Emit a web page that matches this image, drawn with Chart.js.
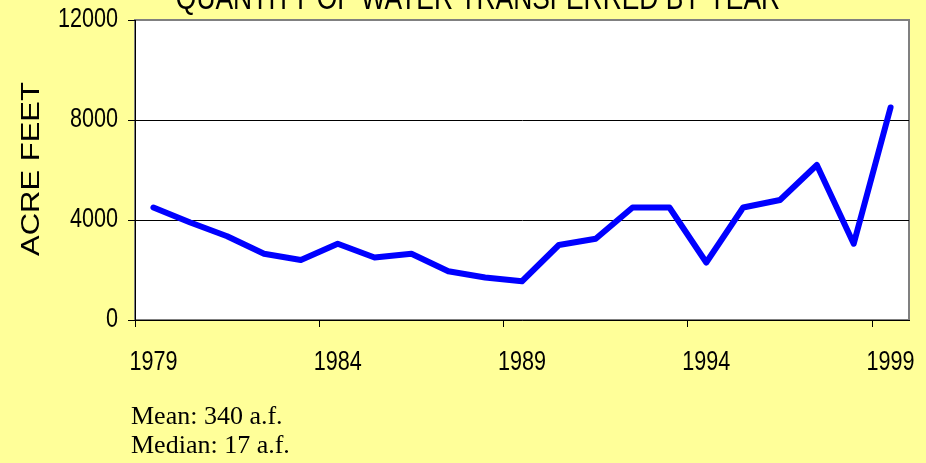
<!DOCTYPE html>
<html><head><meta charset="utf-8">
<script src="https://cdn.jsdelivr.net/npm/chart.js@4.4.1/dist/chart.umd.min.js"></script>
<style>
html,body{margin:0;padding:0;background:#FFFF99;}
#wrap{position:relative;width:926px;height:463px;overflow:hidden;background:#FFFF99;}
#c{position:absolute;left:0;top:0;width:926px;height:463px;}
.note{position:absolute;left:131px;font-family:"Liberation Serif","Times New Roman",serif;font-size:26px;color:#000;line-height:1;white-space:nowrap;}
</style></head><body>
<div id="wrap"><canvas id="c" width="926" height="463"></canvas>
<div class="note" id="mean" style="top:403px"></div>
<div class="note" id="median" style="top:432px"></div></div>
<script>
const years = ["1979","1980","1981","1982","1983","1984","1985","1986","1987","1988","1989","1990","1991","1992","1993","1994","1995","1996","1997","1998","1999"];
const acreFeet = [4500,3900,3350,2650,2400,3050,2500,2650,1950,1700,1550,3000,3250,4500,4500,2300,4500,4800,6200,3050,8500];
const yTicks = [0,4000,8000,12000];
const xLabelStep = 5;
const chartTitle = "QUANTITY OF WATER TRANSFERRED BY YEAR";
const yAxisTitle = "ACRE FEET";
const notes = ["Mean: 340 a.f.","Median: 17 a.f."];

document.getElementById('mean').textContent = notes[0];
document.getElementById('median').textContent = notes[1];

const SANS = '"Liberation Sans",Arial,sans-serif';
const SQUEEZE = 0.8;

function condensedText(ctx, text, x, y, size, align, baseline, rot, sq){
  ctx.save();
  ctx.translate(x, y);
  if (rot) { ctx.rotate(rot); ctx.scale(1, sq); } else { ctx.scale(sq, 1); }
  ctx.font = size + 'px ' + SANS;
  ctx.fillStyle = '#000';
  ctx.textAlign = align;
  ctx.textBaseline = baseline;
  ctx.fillText(text, 0, 0);
  ctx.restore();
}

const framePlugin = {
  id:'frame',
  beforeDraw(chart){
    const {ctx, chartArea:a} = chart;
    ctx.save();
    ctx.fillStyle = '#FFFF99';
    ctx.fillRect(0,0,chart.width,chart.height);
    ctx.fillStyle = '#FFFFFF';
    ctx.fillRect(a.left,a.top,a.right-a.left,a.bottom-a.top);
    ctx.strokeStyle = '#808080';
    ctx.lineWidth = 2;
    ctx.strokeRect(a.left,a.top,a.right-a.left,a.bottom-a.top);
    ctx.restore();
  },
  afterDraw(chart){
    const {ctx, chartArea:a} = chart;
    const xs = chart.scales.x, ys = chart.scales.y;
    // y tick labels
    ys.ticks.forEach(t => {
      condensedText(ctx, String(t.value), a.left - 17, ys.getPixelForValue(t.value), 27, 'right', 'middle', 0, SQUEEZE);
    });
    // x tick labels
    years.forEach((lab, i) => {
      if (i % xLabelStep === 0) {
        condensedText(ctx, lab, xs.getPixelForTick(i), a.bottom + 49.5, 27, 'center', 'alphabetic', 0, SQUEEZE);
      }
    });
    // y axis title
    condensedText(ctx, yAxisTitle, 32, (a.top + a.bottom) / 2 - 1, 31, 'center', 'middle', -Math.PI/2, 0.83);
    // chart title
    condensedText(ctx, chartTitle, 478, 9, 33, 'center', 'alphabetic', 0, SQUEEZE);
  }
};

new Chart(document.getElementById('c'), {
  type:'line',
  data:{labels:years, datasets:[{data:acreFeet, borderColor:'#0000FF', borderWidth:6, pointRadius:0, pointHoverRadius:0, tension:0, fill:false, borderCapStyle:'round', borderJoinStyle:'round'}]},
  options:{
    responsive:false, animation:false, devicePixelRatio:1,
    layout:{padding:{left:0,right:17,top:20,bottom:0}},
    plugins:{legend:{display:false}, tooltip:{enabled:false}, title:{display:false}},
    scales:{
      x:{
        type:'category', offset:true,
        grid:{offset:true, drawOnChartArea:false, tickLength:7, lineWidth:1,
          color:(c)=> (c.index % xLabelStep === 0 && c.index < years.length) ? '#000' : 'rgba(0,0,0,0)'},
        border:{display:true,color:'#000',width:1},
        ticks:{display:false, autoSkip:false, maxRotation:0, minRotation:0},
        afterFit:(s)=>{ s.height = 143; s.paddingLeft = 0; s.paddingRight = 0; }
      },
      y:{
        min:0, max:12000,
        afterBuildTicks:(s)=>{ s.ticks = yTicks.map(v=>({value:v})); },
        grid:{drawOnChartArea:true, tickLength:7, lineWidth:1, tickColor:'#000',
          color:(c)=> (c.tick && (c.tick.value===0 || c.tick.value===12000)) ? 'rgba(0,0,0,0)' : '#000'},
        border:{display:true,color:'#000',width:1},
        ticks:{display:false},
        afterFit:(s)=>{ s.width = 135; s.paddingTop = 0; s.paddingBottom = 0; }
      }
    }
  },
  plugins:[framePlugin]
});
</script>
</body></html>
